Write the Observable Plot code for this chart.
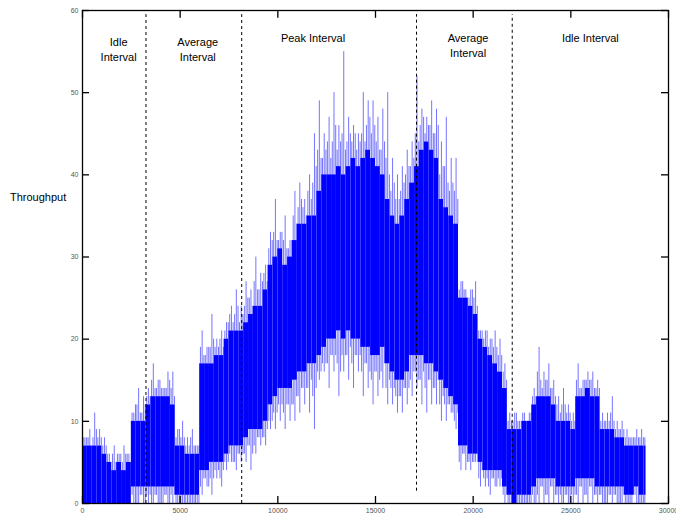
<!DOCTYPE html>
<html><head><meta charset="utf-8">
<script src="https://cdn.jsdelivr.net/npm/d3@7"></script>
<script src="https://cdn.jsdelivr.net/npm/@observablehq/plot@0.6"></script>
<style>
body{margin:0;background:#fff;}
#wrap{position:relative;width:676px;height:517px;overflow:hidden;}
#ylab{position:absolute;left:10px;top:191px;font:11px "Liberation Sans",Arial,sans-serif;color:#000;}
</style></head><body><div id="wrap"><div id="ylab">Throughput</div></div>
<script>
// bin width of the throughput samples (x units)
const binWidth = 250;
// core band top / bottom of the throughput trace, per 250-unit bin
const coreHigh = [7,7,7,7,6,5,4,5,4,5,10,10,10,12,13,13,13,13,12,7,7,6,6,6,17,17,17,18,18,20,21,21,21,22,23,24,24,26,29,30,31,29,30,32,34,34,35,35,38,40,40,40,41,40,41,42,41,42,43,42,41,40,37,35,34,35,37,39,41,43,44,43,42,37,36,35,34,25,25,24,23,20,19,18,17,16,14,9,9,9,10,10,12,13,13,13,12,10,10,10,9,13,13,14,13,13,9,9,9,8,8,7,7,7,7,7];
const coreLow = [0,0,0,0,0,0,0,0,0,0,2,2,2,2,2,2,2,2,2,1,1,1,1,1,4,4,5,5,5,6,7,7,7,8,9,9,9,10,12,13,14,14,14,15,16,16,17,17,18,19,20,20,21,20,21,20,20,19,19,18,18,19,17,16,15,15,16,18,18,18,17,17,16,15,14,13,12,7,7,6,6,5,4,4,4,4,2,1,0,1,1,1,2,3,3,3,3,2,2,2,2,3,3,3,3,2,2,2,2,2,2,1,1,2,1,1];
// spike peaks per bin (tallest, and two secondary ones)
const spikeHigh = [8,9,11,9,8,6,7,6,7,6,11,14,13,14,17,15,14,16,16,9,10,8,9,7,21,19,23,20,21,22,24,26,24,27,26,30,28,29,33,37,33,35,32,38,39,37,40,45,49,45,47,50,46,55,47,46,45,50,49,49,47,48,50,42,40,41,43,44,52,48,47,49,48,44,47,42,42,27,26,26,27,21,21,20,21,20,17,11,11,10,11,11,14,19,16,17,15,13,14,12,11,17,15,16,16,15,11,11,13,10,10,9,8,9,9,9];
const spikeHigh2 = [8,8,8,8,7,6,6,6,5,6,11,12,11,13,15,14,14,14,14,8,8,7,8,7,19,18,19,19,20,21,23,23,22,24,25,27,26,28,31,33,32,32,31,35,36,36,38,39,43,42,44,44,43,45,44,44,43,45,46,45,44,43,42,38,37,38,40,41,45,46,45,46,45,40,41,38,38,26,26,25,25,21,20,19,19,18,16,10,10,10,11,10,13,16,14,15,14,12,12,11,10,15,14,15,15,14,10,10,11,9,9,8,8,8,8,8];
const spikeHigh3 = [8,7,9,8,7,5,5,6,6,5,12,11,12,13,14,15,14,15,13,9,8,7,7,7,18,19,20,19,19,22,22,24,23,25,24,26,27,27,32,32,33,31,32,34,37,35,37,41,42,43,42,46,44,43,45,45,44,44,47,46,43,44,40,39,37,39,41,42,44,47,46,45,46,41,39,39,37,27,25,26,24,21,21,20,19,18,15,10,11,10,10,11,13,15,15,14,13,11,12,11,10,14,15,15,14,14,10,10,10,9,9,8,8,8,8,8];
// spike dips per bin (deepest, and two secondary ones)
const spikeLow = [0,0,0,0,0,0,0,0,0,0,0,0,0,0,0,0,0,0,0,0,0,0,0,0,1,2,1,3,2,4,5,4,5,5,4,6,7,7,9,9,10,9,10,10,11,12,11,9,15,16,14,16,13,16,15,14,16,13,14,12,13,14,12,12,11,11,12,13,14,12,11,12,12,10,10,11,9,4,4,4,5,2,2,1,2,2,0,0,0,0,0,0,0,0,0,0,0,0,0,0,0,0,0,0,0,0,0,0,0,0,0,0,0,0,0,0];
const spikeLow2 = [0,0,0,0,0,0,0,0,0,0,1,0,1,1,0,1,0,1,1,0,0,0,0,0,2,3,3,4,3,5,6,5,6,6,7,7,8,8,10,11,12,11,12,12,13,14,14,13,16,17,17,18,17,18,18,17,18,16,17,15,16,16,14,14,13,13,14,15,16,15,14,15,14,12,12,12,10,5,6,5,5,3,3,2,3,3,1,0,0,0,0,0,1,1,2,1,2,1,0,1,1,1,2,1,2,1,1,0,1,1,0,0,0,1,0,0];
const spikeLow3 = [0,0,0,0,0,0,0,0,0,0,0,1,0,1,1,0,1,0,1,0,0,0,0,0,3,2,3,4,4,5,5,6,6,7,6,8,8,9,10,11,12,12,12,13,14,14,15,14,16,17,18,18,16,18,19,18,18,17,16,16,15,17,15,14,13,14,14,16,15,16,15,14,15,13,12,11,11,6,5,5,6,4,3,3,2,3,1,0,0,0,0,0,0,2,1,2,1,1,1,0,1,2,1,2,1,1,0,1,1,0,1,0,1,0,0,0];
const dataEnd = 28850;

// interval boundaries (dashed lines)
const boundaryX = [3250, 8150, 17100, 22000];
const boundaryBottom = [0, 0, 1.5, 1];
// interval labels
const labelText = ["Idle\nInterval", "Average\nInterval", "Peak Interval", "Average\nInterval", "Idle Interval"];
const labelX = [1850, 5900, 11800, 19740, 26000];
const labelY = [55.3, 55.3, 56.7, 55.8, 56.7];
// axis ticks
const xTicks = [0, 5000, 10000, 15000, 20000, 25000, 30000];
const yTicks = [0, 10, 20, 30, 40, 50, 60];

const bins = coreHigh.map((h, i) => ({
  x1: i * binWidth,
  x2: Math.min((i + 1) * binWidth, dataEnd),
  hi: h, lo: coreLow[i]
}));
// spike rules: three per bin, at fixed fractions of the bin
const spikeSets = [[0.15, spikeHigh2, spikeLow2], [0.5, spikeHigh, spikeLow], [0.85, spikeHigh3, spikeLow3]];
const spikes = [];
coreHigh.forEach((h, i) => {
  for (const [f, up, dn] of spikeSets) {
    const x = i * binWidth + f * binWidth;
    if (x > dataEnd) continue;
    spikes.push({x, y1: h, y2: up[i]});
    spikes.push({x, y1: dn[i], y2: coreLow[i]});
  }
});
const bounds = boundaryX.map((x, i) => ({x, y1: boundaryBottom[i]}));
const labels = labelText.map((t, i) => ({t, x: labelX[i], y: labelY[i]}));
const blue = "#0000ff";

const chart = Plot.plot({
  width: 676, height: 517,
  marginLeft: 82, marginRight: 8, marginTop: 10, marginBottom: 14,
  x: {domain: [0, 30000]},
  y: {domain: [0, 60]},
  style: {fontFamily: "'Liberation Sans', Arial, sans-serif", background: "white", overflow: "visible"},
  marks: [
    Plot.ruleX(spikes, {x: "x", y1: "y1", y2: "y2", stroke: blue, strokeOpacity: 0.55, strokeWidth: 1}),
    Plot.rectY(bins, {x1: "x1", x2: "x2", y1: "lo", y2: "hi", fill: blue, inset: 0}),
    Plot.ruleX(bounds, {x: "x", y1: "y1", y2: 59.5, stroke: "black", strokeWidth: 1, strokeDasharray: "3,3"}),
    // inward ticks
    Plot.ruleX(xTicks, {x: d => d, y1: 0, y2: 0.85, stroke: "black", strokeWidth: 1.3}),
    Plot.ruleX(xTicks, {x: d => d, y1: 60, y2: 59.05, stroke: "black", strokeWidth: 1.3}),
    Plot.ruleY(yTicks, {y: d => d, x1: 0, x2: 360, stroke: "black", strokeWidth: 1.3}),
    Plot.ruleY(yTicks, {y: d => d, x1: 30000, x2: 29640, stroke: "black", strokeWidth: 1.3}),
    Plot.axisX({ticks: xTicks, tickSize: 0, tickPadding: 5, fontSize: 7, fill: "#555", tickFormat: d => String(d)}),
    Plot.axisY({ticks: yTicks, tickSize: 0, tickPadding: 4, fontSize: 7, fill: "#555", tickFormat: d => String(d), label: null}),
    Plot.frame({stroke: "black", strokeWidth: 1.3}),
    Plot.text(labels, {x: "x", y: "y", text: "t", fontSize: 11, lineHeight: 1.36, fill: "black"})
  ]
});
document.getElementById("wrap").prepend(chart);
</script>
</body></html>
